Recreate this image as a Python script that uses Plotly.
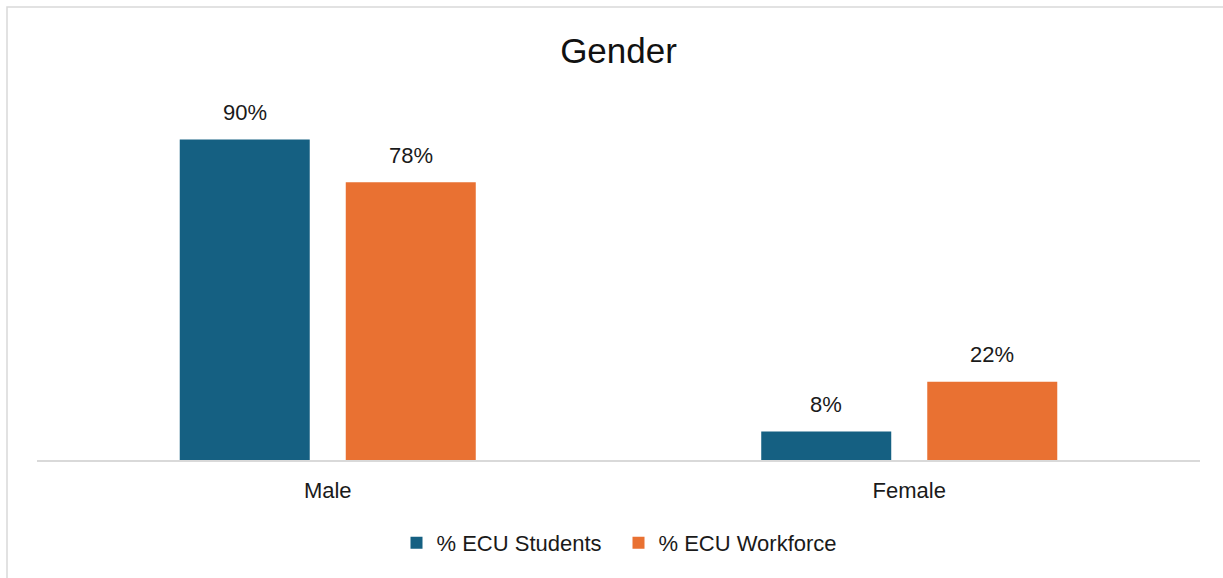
import plotly.graph_objects as go

categories = ["Male", "Female"]
students = [90, 8]
workforce = [78, 22]
series_names = ["% ECU Students", "% ECU Workforce"]
colors = ["#156082", "#E97132"]

W, H = 1223, 578
ML, MR, MT, MB = 37, 23, 104, 118
FONT = "Liberation Sans, Arial, sans-serif"
TXT = "#1a1a1a"

fig = go.Figure()
for name, vals, col in zip(series_names, [students, workforce], colors):
    fig.add_trace(go.Bar(x=categories, y=vals, name=name, marker_color=col,
                         marker_line_width=0, hoverinfo="skip"))

plot_w = W - ML - MR
plot_h = H - MT - MB
cat_w = plot_w / len(categories)
bargap = 0.429
slot = cat_w * (1 - bargap) / 2

annotations = []
for i, vals in enumerate([students, workforce]):
    shift = (i - 0.5) * slot
    for c, v in zip(categories, vals):
        annotations.append(dict(x=c, y=v, xref="x", yref="y", text=f"{v}%",
                                showarrow=False, xshift=shift, yshift=27,
                                yanchor="middle",
                                font=dict(size=22, color=TXT, family=FONT)))

fig.update_layout(
    width=W, height=H,
    margin=dict(l=ML, r=MR, t=MT, b=MB, pad=0),
    paper_bgcolor="white", plot_bgcolor="white",
    barmode="group", bargap=bargap, bargroupgap=0.217,
    title=dict(text="Gender", xref="paper", x=0.5, xanchor="center",
               y=1 - 51 / H, yanchor="middle",
               font=dict(size=35, color="#111111", family=FONT)),
    xaxis=dict(showgrid=False, showline=True, linecolor="#d9d9d9", linewidth=1.5,
               ticks="", tickfont=dict(size=22, color=TXT, family=FONT),
               ticklabelstandoff=10, fixedrange=True),
    yaxis=dict(range=[0, 100], visible=False, showgrid=False, zeroline=False, fixedrange=True),
    legend=dict(orientation="h", x=0.5, xanchor="center", y=-(543 - 460) / plot_h,
                yanchor="middle", font=dict(size=22, color=TXT, family=FONT),
                itemwidth=30, traceorder="normal", entrywidthmode="pixels",
                entrywidth=177),
    annotations=annotations,
    shapes=[dict(type="rect", xref="paper", yref="paper",
                 x0=(7 - ML) / plot_w, x1=(W + 20 - ML) / plot_w,
                 y0=-(H + 20 - (H - MB)) / plot_h, y1=1 + (MT - 7) / plot_h,
                 line=dict(color="#d9d9d9", width=1.5), layer="below")],
    showlegend=True,
)

fig.write_html("out.html", config={"displayModeBar": False},
               post_script="document.body.style.margin='0';document.body.style.overflow='hidden';")
